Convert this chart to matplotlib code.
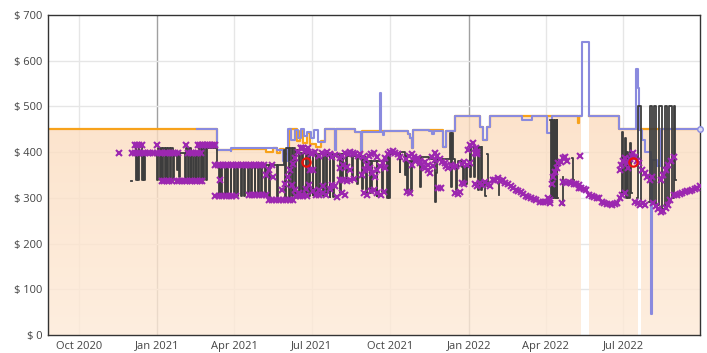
import numpy as np
import pandas as pd
import matplotlib
matplotlib.use("Agg")
import matplotlib.pyplot as plt
import matplotlib.dates as mdates
from matplotlib.path import Path
from matplotlib.colors import LinearSegmentedColormap

plt.rcParams["font.family"] = ["Open Sans", "DejaVu Sans"]

# days counted from 2020-09-01
BASE = "2020-09-01"
nan = np.nan

# Amazon price (orange line + filled area), step data (day, $)
amazon = [(-6, 450), (192, 405), (208, 402), (209, 407), (250, 400), (258, 408), (262, 398),
          (266, 406), (270, 396), (276, 450), (286, 425), (289, 446), (293, 420), (297, 442),
          (301, 418), (308, 412), (314, 425), (318, 450), (330, 405), (331, 450), (354, 444),
          (361, 398), (362, 446), (416, 440), (418, 430), (421, 408), (422, 448), (457, 411),
          (460, 446), (471, 479), (500, 455), (504, 427), (508, 455), (512, 479), (615, 464),
          (616, 479), (618, nan), (628, 479), (663, 450), (685, nan), (689, 450), (758, 450)]

# New price (blue line)
new = [(169, 450), (192, 405), (208, 402), (209, 408), (262, 404), (269, 380), (275, 450),
       (279, 427), (283, 448), (287, 432), (291, 450), (294, 436), (298, 445), (302, 430),
       (306, 448), (310, 422), (318, 450), (330, 405), (331, 450), (354, 444), (361, 398),
       (362, 444), (383, 530), (384, 444), (386, 438), (388, 446), (416, 440), (418, 430),
       (421, 408), (422, 448), (440, 446), (444, 440), (446, 446), (457, 411), (460, 446),
       (471, 479), (500, 455), (504, 427), (508, 455), (512, 479), (549, 470), (561, 479),
       (579, 442), (584, 479), (620, 640), (628, 479), (663, 450), (683, 582), (685, 540),
       (686, 448), (690, 427), (694, 400), (701, 45), (702, 383), (708, 370), (712, 450),
       (758, 450)]

# Used price (dark step line)
used = [(91, 337), (92, nan),
        (96, 412), (97, 338), (98, 400), (100, 338), (101, 412), (104, 338), (105, 398),
        (107, 338), (108, 398), (122, 338), (123, 410), (125, 338), (126, 410), (128, 338),
        (129, 410), (131, 338), (132, 410), (134, 338), (135, 410), (137, 338), (138, 410),
        (141, 338), (142, 400), (145, 360), (146, 400), (148, 345), (149, 398), (155, 338),
        (156, 410), (158, 338), (159, 410), (161, 338), (162, 400), (164, 338), (165, 400),
        (167, 338), (168, 400), (170, 338), (171, 410), (173, 338), (174, 410), (176, 338),
        (177, 410), (179, 338), (180, 410),
        (192, 372), (194, 303), (195, 372), (197, 303), (198, 372), (201, 303), (202, 372),
        (204, 303), (205, 372), (208, 303), (209, 372), (212, 303), (213, 372), (216, 303),
        (217, 372), (220, 303), (221, 372), (224, 303), (225, 372), (228, 303), (229, 372),
        (232, 303), (233, 372), (236, 303), (237, 372), (240, 303), (241, 372), (244, 303),
        (245, 372), (248, 303), (249, 372), (253, 300), (254, 372), (262, 300), (263, 372),
        (270, 405), (272, 300), (273, 410), (276, 300), (277, 410), (280, 303), (281, 410),
        (284, 300), (285, 405), (288, 305), (289, 398), (292, 306), (293, 398), (296, 310),
        (297, 395), (300, 303), (301, 398), (304, 306), (305, 395), (308, 310), (309, 396),
        (312, 303), (313, 396), (316, 303), (317, 395),
        (320, 303), (321, 395), (324, 302), (325, 395), (328, 302), (329, 395), (336, 310),
        (337, 395), (339, 339), (340, 395), (343, 339), (344, 392), (350, 339), (351, 392),
        (356, 330), (357, 392), (362, 320), (363, 390), (367, 310), (368, 380), (371, 310),
        (372, 380), (373, 313), (374, 380), (379, 303), (380, 380), (385, 313), (386, 380),
        (391, 299), (392, 395), (394, 299), (395, 395), (406, 357), (407, 401), (412, 350),
        (413, 392), (415, 313), (416, 380), (419, 313), (420, 380), (430, 324), (431, 390),
        (440, 385), (447, 354), (448, 292), (449, 354), (450, 385), (465, 441), (466, 324),
        (467, 441), (468, 385), (471, 365), (472, 317), (473, 365), (474, 380), (479, 368),
        (480, 330), (481, 368), (484, 330), (485, 368), (488, 411), (489, 345), (490, 411),
        (493, 345), (494, 400), (497, 411), (498, 317), (499, 411), (501, 317), (502, 411),
        (503, nan), (505, 330), (506, 304), (507, nan), (508, 397), (509, 325), (510, nan),
        (521, 333), (522, 306), (523, nan),
        (582, 470), (583, 300), (584, 470), (585, 300), (586, 470), (587, 300), (588, 470),
        (589, 300), (590, 470), (591, 300), (592, nan), (597, 346), (598, 285), (599, nan),
        (608, 387), (609, 339), (610, nan),
        (666, 310), (667, 444), (668, 310), (670, 430), (671, 300), (673, 400), (674, 300),
        (676, 420), (677, 310), (678, nan),
        (684, 300), (685, 500), (689, 292), (690, nan),
        (698, 290), (699, 500), (702, 290), (704, 500), (707, 285), (710, 500), (713, 275),
        (717, 500), (719, 290), (722, 500), (725, 300), (727, 500), (729, 340), (730, nan)]

# Buy box (purple x markers)
buybox = [(77, 398),
          (96, 416), (98, 416), (101, 416), (104, 416), (122, 416), (156, 416), (170, 416),
          (172, 416), (174, 416), (176, 416), (178, 416), (180, 416), (182, 416), (184, 416),
          (186, 416), (188, 416), (190, 416),
          (93, 398), (96, 398), (99, 398), (102, 398), (105, 398), (108, 398), (111, 398),
          (114, 398), (117, 398), (122, 398), (125, 398), (128, 398), (131, 398), (134, 398),
          (137, 398), (140, 398), (143, 398), (146, 398), (158, 398), (161, 398), (164, 398),
          (167, 398), (170, 398), (173, 398),
          (127, 337), (130, 337), (133, 337), (136, 337), (139, 337), (145, 337), (148, 337),
          (151, 337), (154, 337), (157, 337), (160, 337), (163, 337), (166, 337), (169, 337),
          (172, 337), (175, 337),
          (195, 339),
          (190, 372), (193, 372), (196, 372), (199, 372), (202, 372), (205, 372), (208, 372),
          (211, 372), (214, 372), (217, 372), (220, 372), (223, 372), (226, 372), (229, 372),
          (232, 372), (235, 372), (238, 372), (241, 372), (244, 372), (247, 372),
          (190, 305), (194, 305), (198, 305), (202, 305), (206, 305), (210, 305), (214, 305),
          (229, 306), (233, 306), (237, 306), (241, 306), (245, 306), (249, 306), (253, 295),
          (257, 295), (261, 295), (265, 295), (269, 295), (273, 295), (277, 295), (281, 295),
          (285, 305), (289, 305), (293, 305), (297, 305),
          (250, 350), (253, 360), (256, 372), (258, 345),
          (268, 317), (272, 330), (275, 345), (278, 360), (281, 375), (284, 388), (287, 400),
          (290, 408), (293, 410), (296, 405), (299, 400), (302, 395),
          (291, 410), (295, 402), (299, 408), (303, 398), (307, 400), (301, 361), (305, 361),
          (280, 328), (284, 318), (288, 310), (292, 306), (296, 320), (300, 328), (304, 315),
          (308, 306), (312, 318), (316, 325),
          (312, 392), (315, 398), (318, 395), (321, 400), (324, 396), (327, 390), (330, 394),
          (336, 387), (339, 392), (342, 398), (345, 395), (348, 400), (351, 398), (354, 395),
          (357, 392), (360, 396), (363, 390), (367, 385), (370, 392), (373, 396), (376, 398),
          (379, 390), (389, 388), (392, 396), (395, 400), (398, 402), (401, 398), (404, 395),
          (407, 390), (414, 385), (417, 392), (420, 396), (423, 390), (426, 385), (430, 380),
          (312, 306), (316, 310), (320, 306), (324, 320), (327, 328), (330, 325), (333, 302),
          (336, 339), (340, 340), (344, 336), (348, 339), (352, 342), (338, 310), (342, 306),
          (336, 365), (340, 372), (344, 368), (348, 362),
          (362, 350), (365, 360), (368, 372), (371, 365), (374, 355), (377, 346), (380, 360),
          (383, 370), (386, 376), (389, 365),
          (364, 310), (368, 306), (372, 315), (376, 317), (380, 310), (384, 306), (388, 312),
          (415, 313), (418, 310),
          (421, 372), (424, 380), (427, 387), (430, 376), (433, 368), (436, 365), (439, 372),
          (436, 378), (439, 360), (442, 355), (445, 370), (448, 383),
          (444, 390), (447, 398), (450, 392), (453, 385), (456, 378), (459, 376),
          (451, 322), (454, 322),
          (460, 370), (463, 365), (466, 372), (469, 368), (472, 370),
          (471, 310), (474, 308), (477, 312),
          (479, 375), (482, 378), (485, 372), (488, 376), (479, 333), (482, 330),
          (486, 405), (489, 415), (492, 420), (495, 410), (497, 400), (494, 398), (497, 395),
          (494, 330), (497, 326), (500, 333), (503, 328), (506, 335), (509, 330), (512, 327),
          (515, 340), (518, 338), (521, 343), (524, 336), (527, 338),
          (530, 333), (533, 330), (536, 326), (539, 322), (542, 318), (545, 315), (548, 312),
          (551, 308), (554, 305), (557, 302), (560, 300), (563, 298),
          (566, 295), (570, 292), (574, 290), (578, 292), (582, 295),
          (580, 300), (584, 330), (586, 346), (588, 357), (590, 365), (592, 376), (595, 378),
          (598, 387), (600, 389), (602, 380), (582, 289), (596, 289), (617, 391),
          (598, 335), (601, 333), (604, 335), (607, 332), (610, 330), (613, 330), (616, 328),
          (616, 322), (619, 322), (622, 320), (625, 318),
          (628, 306), (631, 304), (634, 302), (637, 300), (640, 300),
          (643, 291), (646, 289), (649, 287), (652, 286), (655, 285), (658, 286), (661, 288),
          (664, 300), (667, 306), (670, 310),
          (664, 360), (666, 372), (668, 380), (670, 387), (672, 376), (674, 365),
          (676, 385), (678, 392), (680, 398), (682, 390), (684, 380), (686, 376),
          (682, 291), (685, 288), (688, 285), (691, 289), (694, 284),
          (690, 361), (693, 355), (696, 345), (699, 339), (702, 346),
          (703, 289), (706, 282), (709, 275), (712, 270), (715, 272), (718, 278), (721, 285),
          (712, 339), (715, 350), (718, 360), (721, 372), (724, 380), (727, 389), (723, 295),
          (728, 306), (731, 306), (734, 308), (737, 310), (740, 312), (743, 315), (746, 316),
          (749, 318), (752, 320), (755, 322), (758, 326)]

# warehouse deals (red circles)
warehouse = [(296, 378), (680, 378)]

tick_dates = ["2020-10-01", "2021-01-01", "2021-04-01", "2021-07-01", "2021-10-01",
              "2022-01-01", "2022-04-01", "2022-07-01"]
tick_labels = ["Oct 2020", "Jan 2021", "Apr 2021", "Jul 2021", "Oct 2021",
               "Jan 2022", "Apr 2022", "Jul 2022"]
y_ticks = [0, 100, 200, 300, 400, 500, 600, 700]

x0 = mdates.date2num(pd.Timestamp(BASE))


def split(series):
    d, v = zip(*series)
    return x0 + np.array(d, float), np.array(v, float)


fig = plt.figure(figsize=(7.07, 3.53), dpi=100)
ax = fig.add_axes([48 / 707, 1 - 335 / 353, 652 / 707, 320 / 353])
xmin, xmax = x0 - 6, x0 + 758

# grid
for t, lab in zip(tick_dates, tick_labels):
    c = "#a0a0a0" if lab.startswith("Jan") else "#e6e6e6"
    ax.axvline(mdates.date2num(pd.Timestamp(t)), color=c, lw=1, zorder=0.5)
for yv in y_ticks[1:-1]:
    ax.axhline(yv, color="#e6e6e6", lw=1, zorder=0.5)

# amazon fill with a soft gradient
ax_x, ax_v = split(amazon)
poly = ax.fill_between(ax_x, 0, np.nan_to_num(ax_v, nan=0), step="post",
                       facecolor="none", edgecolor="none")
clip = Path.make_compound_path(*poly.get_paths())
cmap = LinearSegmentedColormap.from_list("peach", ["#feead7", "#fcddc0"])
grad = np.linspace(0, 1, 200).reshape(-1, 1)
im = ax.imshow(grad, extent=[xmin, xmax, 0, 480], origin="lower", aspect="auto",
               cmap=cmap, alpha=0.8, zorder=1, interpolation="bilinear")
im.set_clip_path(clip, transform=ax.transData)

ax.step(ax_x, ax_v, where="post", color="#f7a21b", lw=1.6, zorder=2)

nx, nv = split(new)
ax.step(nx, nv, where="post", color="#8a8ade", lw=1.5, zorder=3)
ax.plot([nx[-1]], [nv[-1]], "o", ms=4, mfc="#dcdcf5", mec="#8a8ade", mew=1,
        zorder=6, clip_on=False)

ux, uv = split(used)
ax.step(ux, uv, where="post", color="#3d3d3d", lw=1.3, zorder=4)

bx, bv = split(buybox)
ax.plot(bx, bv, ls="none", marker="x", ms=4.8, mew=1.5, color="#9c27b0", zorder=5)

wx, wv = split(warehouse)
ax.plot(wx, wv, ls="none", marker="o", ms=6, mfc="none", mec="#e8120c", mew=1.6, zorder=6)

ax.set_xlim(xmin, xmax)
ax.set_ylim(0, 700)
ax.set_xticks([mdates.date2num(pd.Timestamp(t)) for t in tick_dates])
ax.set_xticklabels(tick_labels)
ax.set_yticks(y_ticks)
ax.set_yticklabels([f"$ {v}" for v in y_ticks])
ax.tick_params(length=0, labelsize=8, labelcolor="#444444", pad=4)
for s in ax.spines.values():
    s.set_color("#333333")
    s.set_linewidth(1)

plt.savefig("out.png", dpi=100)
